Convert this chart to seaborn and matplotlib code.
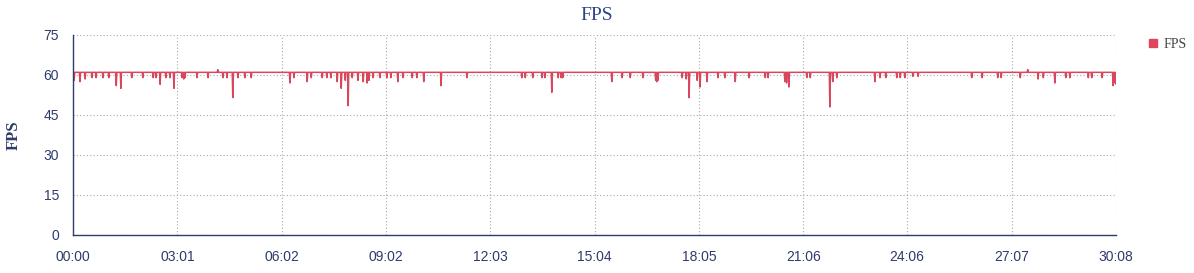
import numpy as np
import pandas as pd
import matplotlib
matplotlib.use("Agg")
import matplotlib.pyplot as plt
from matplotlib.lines import Line2D
from matplotlib.ticker import FixedLocator, MultipleLocator
import seaborn as sns

# ---- data ----
duration_s = 1808
baseline_fps = 61
dip_times = [2, 12, 21, 33, 40, 52, 62, 75, 83, 102, 121, 139, 144, 151, 161, 168, 175,
             189, 192, 194, 215, 234, 251, 260, 267, 277, 286, 298,
             309, 376, 383, 406, 413, 432, 440, 447, 458, 465, 472, 477, 484, 494, 503,
             510, 513, 520, 532, 544, 551, 563, 572, 588, 596,
             608, 638, 683, 778, 784, 797, 813, 818, 830, 841, 846, 849,
             934, 952, 966, 988, 1010, 1012, 1014, 1056, 1063, 1068, 1082, 1087, 1099,
             1118, 1130, 1148, 1172, 1200, 1205,
             1234, 1237, 1241, 1272, 1278, 1312, 1317, 1324, 1390, 1399, 1409, 1428,
             1434, 1442, 1456, 1465,
             1558, 1576, 1603, 1609, 1642, 1655, 1673, 1682, 1702, 1721, 1728, 1760,
             1766, 1784, 1803, 1806, 1808]
dip_values = [58, 57.5, 58.5, 59, 59, 59, 59, 56, 55, 59, 59, 59, 59, 56.5, 59, 59, 55,
              59, 58.5, 59, 59, 59, 62, 59, 59, 51.5, 59, 59,
              59, 57, 59, 57.5, 59, 59, 59, 59, 57.5, 55, 58, 48.5, 59, 58, 57.5,
              57, 58, 59, 59, 59, 59, 57.5, 59, 59, 59,
              57.5, 56, 59, 59, 59, 59, 59, 59, 53.5, 59, 59, 59,
              57.5, 59, 59, 59, 58, 57.5, 58, 59, 58.5, 51.5, 58, 55.5, 57.5,
              59, 59, 57.5, 59, 59, 59,
              57.5, 57, 55.5, 59, 59, 48, 57.5, 59, 57.5, 59, 59, 59,
              59, 59, 59.5, 59.5,
              59, 59, 59, 59, 59, 62, 58.5, 59, 57, 59, 59, 59,
              59, 59, 56, 57, 56.5]
x_tick_seconds = [0, 181, 362, 542, 723, 904, 1085, 1266, 1446, 1627, 1808]
x_tick_labels = ["00:00", "03:01", "06:02", "09:02", "12:03", "15:04",
                 "18:05", "21:06", "24:06", "27:07", "30:08"]
y_ticks = [0, 15, 30, 45, 60, 75]

seconds = np.arange(duration_s + 1)
fps = np.full(seconds.shape, float(baseline_fps))
fps[np.array(dip_times)] = dip_values
df = pd.DataFrame({"t": seconds, "FPS": fps})

# ---- style ----
sns.set_style("white")
navy = "#2e3b6b"
line_color = "#d9475c"

fig = plt.figure(figsize=(11.94, 2.73), dpi=100)
ax = fig.add_axes([73 / 1194, 1 - 235 / 273, (1116 - 73) / 1194, 200 / 273])

sns.lineplot(data=df, x="t", y="FPS", ax=ax, color=line_color, linewidth=1.1,
             legend=False)

ax.set_xlim(0, duration_s)
ax.set_ylim(0, 75)
ax.xaxis.set_major_locator(FixedLocator(x_tick_seconds))
ax.set_xticklabels(x_tick_labels)
ax.xaxis.set_minor_locator(FixedLocator([s + 90.4 for s in x_tick_seconds[:-1]]))
ax.yaxis.set_major_locator(FixedLocator(y_ticks))
ax.yaxis.set_minor_locator(MultipleLocator(5))

ax.grid(True, which="major", color="#a8a8a8", linestyle=(0, (1, 2)), linewidth=0.8)
for s in ["top", "right"]:
    ax.spines[s].set_visible(False)
for s in ["left", "bottom"]:
    ax.spines[s].set_color(navy)
    ax.spines[s].set_linewidth(1.0)

tick_font = ["Liberation Sans", "DejaVu Sans"]
ax.tick_params(axis="both", which="major", direction="out", length=7, width=1,
               color=navy, labelcolor=navy, labelsize=10)
ax.tick_params(axis="both", which="minor", direction="out", length=5, width=1, color=navy)
ax.tick_params(axis="x", which="major", pad=4)
ax.tick_params(axis="y", which="major", pad=3)
for lab in ax.get_xticklabels() + ax.get_yticklabels():
    lab.set_family(tick_font)

ax.set_xlabel("")
ax.set_ylabel("FPS", family="Liberation Serif", fontsize=12, fontweight="bold",
              color=navy, labelpad=16)

fig.text(597 / 1194, 1 - 16 / 273, "FPS", ha="center", va="center",
         family="Liberation Serif", fontsize=14, color="#2f4488")

handle = Line2D([], [], marker="s", linestyle="none", markersize=6,
                markerfacecolor="#e0455a", markeredgecolor="#e0455a")
fig.legend([handle], ["FPS"], loc="center left",
           bbox_to_anchor=(1134 / 1194, 1 - 44 / 273), frameon=False,
           handletextpad=0.2, prop={"family": "Liberation Serif", "size": 10},
           labelcolor="#444444", handlelength=1.0)

fig.savefig("out.png", dpi=100)
